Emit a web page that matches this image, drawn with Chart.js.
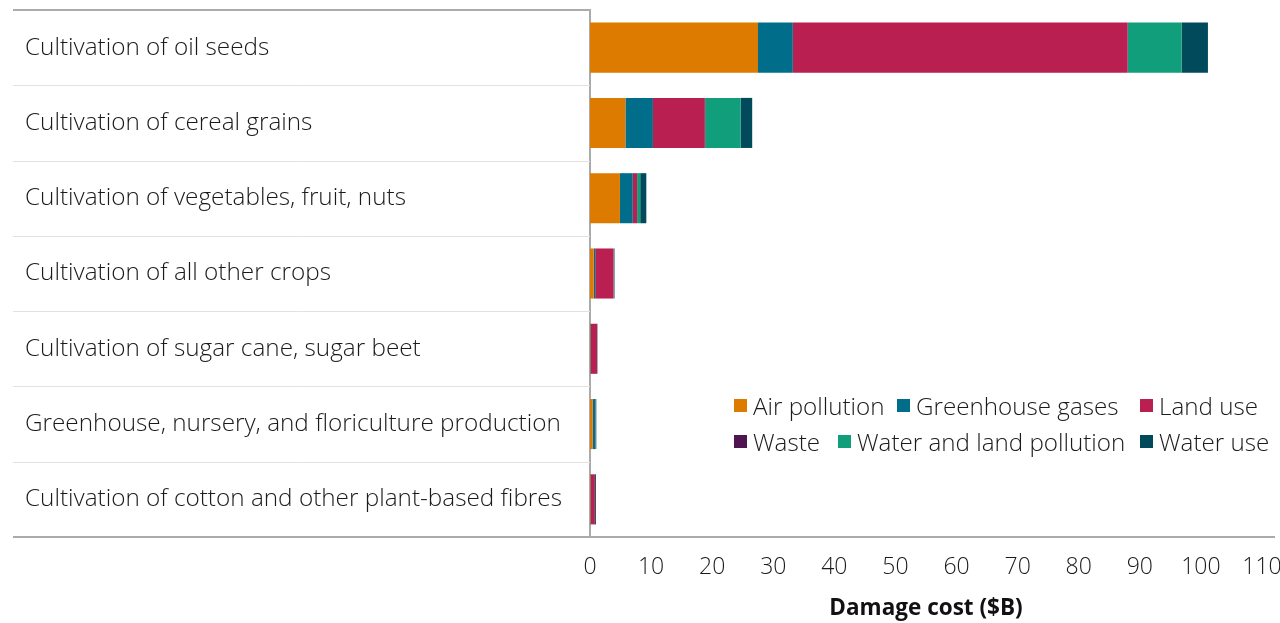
<!DOCTYPE html>
<html>
<head>
<meta charset="utf-8">
<script src="https://cdn.jsdelivr.net/npm/chart.js@4"></script>
<style>
  html, body { margin: 0; padding: 0; background: #fff; }
  #wrap { position: relative; width: 1280px; height: 623px; }
  #legend { position: absolute; left: 0; top: 0; font-family: "Open Sans", sans-serif; font-weight: 300; font-size: 24.2px; color: #1a1a1a; }
  .item { position: absolute; display: flex; align-items: center; white-space: nowrap; height: 30px; }
  .box { width: 13px; height: 13px; margin-right: 6px; flex: none; }
</style>
</head>
<body>
<div id="wrap">
  <canvas id="chart" width="1280" height="623"></canvas>
  <div id="legend"></div>
</div>
<script>
// categories (top to bottom)
const categories = [
  'Cultivation of oil seeds',
  'Cultivation of cereal grains',
  'Cultivation of vegetables, fruit, nuts',
  'Cultivation of all other crops',
  'Cultivation of sugar cane, sugar beet',
  'Greenhouse, nursery, and floriculture production',
  'Cultivation of cotton and other plant-based fibres'
];

// damage cost in $B per impact
const airPollution   = [27.5, 5.8, 4.9, 0.6, 0.05, 0.45, 0.05];
const greenhouse     = [5.7, 4.5, 2.1, 0.25, 0.1, 0.45, 0.05];
const landUse        = [54.8, 8.5, 0.7, 3.0, 1.0, 0.05, 0.7];
const waste          = [0.05, 0.05, 0.02, 0.01, 0.01, 0.01, 0.01];
const waterLandPoll  = [8.8, 5.8, 0.5, 0.05, 0.02, 0.02, 0.02];
const waterUse       = [4.3, 1.9, 1.0, 0.1, 0.05, 0.05, 0.15];

const xTicks = [0, 10, 20, 30, 40, 50, 60, 70, 80, 90, 100, 110];

const series = [
  { label: 'Air pollution', data: airPollution, color: '#dd7a00' },
  { label: 'Greenhouse gases', data: greenhouse, color: '#006e8a' },
  { label: 'Land use', data: landUse, color: '#ba1f51' },
  { label: 'Waste', data: waste, color: '#4f1550' },
  { label: 'Water and land pollution', data: waterLandPoll, color: '#119e7a' },
  { label: 'Water use', data: waterUse, color: '#004a5c' }
];

// legend item slots (left, centre y)
const legendSlots = [[734, 405], [897, 405], [1140, 405], [734, 441], [838, 441], [1140, 441]];

const FONT = '"Open Sans", sans-serif';

// separator lines in the label column
const rowLines = {
  id: 'rowLines',
  afterDraw(chart) {
    const { ctx, chartArea, scales } = chart;
    const y = scales.y;
    ctx.save();
    ctx.lineWidth = 1;
    ctx.strokeStyle = '#e2e2e2';
    for (let i = 0; i < categories.length - 1; i++) {
      const yy = Math.round((y.getPixelForValue(i) + y.getPixelForValue(i + 1)) / 2) + 0.5;
      ctx.beginPath();
      ctx.moveTo(13, yy);
      ctx.lineTo(chartArea.left, yy);
      ctx.stroke();
    }
    ctx.lineWidth = 2;
    ctx.strokeStyle = '#ababab';
    ctx.beginPath();
    ctx.moveTo(13, chartArea.top);
    ctx.lineTo(chartArea.left, chartArea.top);
    ctx.stroke();
    ctx.beginPath();
    ctx.moveTo(13, chartArea.bottom);
    ctx.lineTo(1275, chartArea.bottom);
    ctx.stroke();
    ctx.restore();
  }
};

new Chart(document.getElementById('chart'), {
  type: 'bar',
  data: {
    labels: categories,
    datasets: series.map(s => ({
      label: s.label,
      data: s.data,
      backgroundColor: s.color,
      borderWidth: 0,
      barPercentage: 1,
      categoryPercentage: 0.665
    }))
  },
  options: {
    indexAxis: 'y',
    responsive: false,
    animation: false,
    layout: { padding: { left: 25, right: 18, top: 10, bottom: 0 } },
    plugins: {
      legend: { display: false },
      tooltip: { enabled: false }
    },
    scales: {
      x: {
        stacked: true,
        min: 0,
        max: 110,
        afterBuildTicks: scale => { scale.ticks = xTicks.map(v => ({ value: v })); },
        grid: { display: false, drawTicks: false },
        border: { display: false },
        ticks: { font: { family: FONT, size: 23, weight: 300 }, color: '#1a1a1a', padding: 17 },
        title: {
          display: true,
          text: 'Damage cost ($B)',
          font: { family: FONT, size: 22.5, weight: 'bold' },
          color: '#111',
          padding: { top: 2, bottom: 1 }
        },
        afterFit: scale => {
          scale.height = 86;
          scale.paddingLeft = 0;
          scale.paddingRight = 0;
        }
      },
      y: {
        stacked: true,
        grid: { display: false },
        border: { display: true, color: '#ababab', width: 2 },
        ticks: { crossAlign: 'far', font: { family: FONT, size: 24.3, weight: 300 }, color: '#1a1a1a' },
        afterFit: scale => {
          scale.width = 565;
          scale.paddingTop = 0;
          scale.paddingBottom = 0;
        }
      }
    }
  },
  plugins: [rowLines]
});

// legend
const legend = document.getElementById('legend');
series.forEach((s, i) => {
  const it = document.createElement('div');
  it.className = 'item';
  it.style.left = legendSlots[i][0] + 'px';
  it.style.top = (legendSlots[i][1] - 15) + 'px';
  it.innerHTML = '<span class="box" style="background:' + s.color + '"></span><span>' + s.label + '</span>';
  legend.appendChild(it);
});
</script>
</body>
</html>
